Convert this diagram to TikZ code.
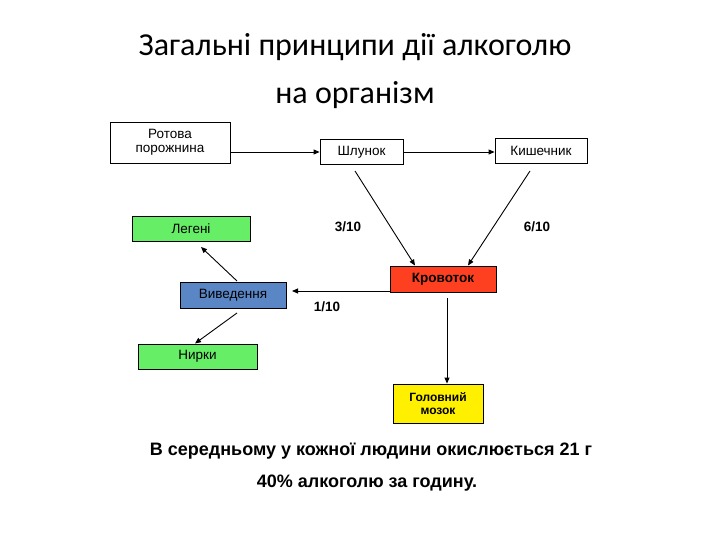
\documentclass[tikz,border=0pt]{standalone}
\usepackage{fontspec}
\setmainfont{Liberation Sans}
\newfontfamily\titlefont{Carlito}
\usetikzlibrary{arrows.meta}
\definecolor{gr}{HTML}{66EE66}
\definecolor{bl}{HTML}{5B86C5}
\definecolor{rd}{HTML}{FF4020}
\definecolor{yl}{HTML}{FFF000}
\tikzset{
  box/.style={draw, line width=0.8pt, inner sep=0pt, font=\fontsize{13.5}{14.5}\selectfont, align=center},
  lbl/.style={font=\bfseries\fontsize{13.5}{14}\selectfont},
  arr/.style={line width=0.9pt, -{Triangle[length=6pt,width=5pt]}},
}
\begin{document}
\begin{tikzpicture}[x=1pt,y=-1pt]
\useasboundingbox (0,0) rectangle (720,540);
\node[font=\titlefont\fontsize{32}{34}\selectfont] (t1) at (355,47) {Загальні принципи дії алкоголю};
\node[font=\titlefont\fontsize{32}{34}\selectfont] (t2) at (355,95) {на організм};

\node[box, minimum width=120pt, minimum height=41pt] (rot) at (170,142.5) {Ротова\\порожнина};
\node[box, minimum width=83pt, minimum height=25pt] (shl) at (361.5,152) {Шлунок};
\node[box, minimum width=92pt, minimum height=25pt] (kish) at (541,150.5) {Кишечник};
\node[box, fill=gr, minimum width=118pt, minimum height=25pt] (leg) at (191,228.5) {Легені};
\node[box, fill=rd, font=\bfseries\fontsize{13.5}{14.5}\selectfont, minimum width=106pt, minimum height=26pt] (krov) at (443,279) {Кровоток};
\node[box, fill=bl, minimum width=106pt, minimum height=26pt] (viv) at (233,295) {Виведення};
\node[box, fill=gr, minimum width=119pt, minimum height=25pt] (nyr) at (197.5,356.5) {Нирки};
\node[box, fill=yl, font=\bfseries\fontsize{12}{13.5}\selectfont, minimum width=90pt, minimum height=39pt] (mozok) at (438,403.5) {Головний\\мозок};

\node[lbl] (l3) at (348,227) {3/10};
\node[lbl] (l6) at (537,227) {6/10};
\node[lbl] (l1) at (327,307) {1/10};

\draw[arr] (rot.east |- 0,152) -- (shl.west);
\draw[arr] (shl.east) -- (kish.west |- 0,152);
\coordinate (s1) at (355,171);
\coordinate (k1) at (530,171);
\draw[arr] (s1) -- (415,265.5);
\draw[arr] (k1) -- (468,265.5);
\draw[arr] (krov.west |- 0,291) -- (292,291);
\coordinate (v1) at (237,281);
\coordinate (v2) at (237,313);
\draw[arr] (v1) -- (201,247);
\draw[arr] (v2) -- (195,343.5);
\coordinate (k2) at (447,298);
\draw[arr] (k2) -- (mozok.north -| 447,0);

\node[font=\bfseries\fontsize{18}{20}\selectfont] (b1) at (371,451) {В середньому у кожної людини окислюється 21 г};
\node[font=\bfseries\fontsize{18}{20}\selectfont] (b2) at (367,483) {40\% алкоголю за годину.};
\end{tikzpicture}
\end{document}
